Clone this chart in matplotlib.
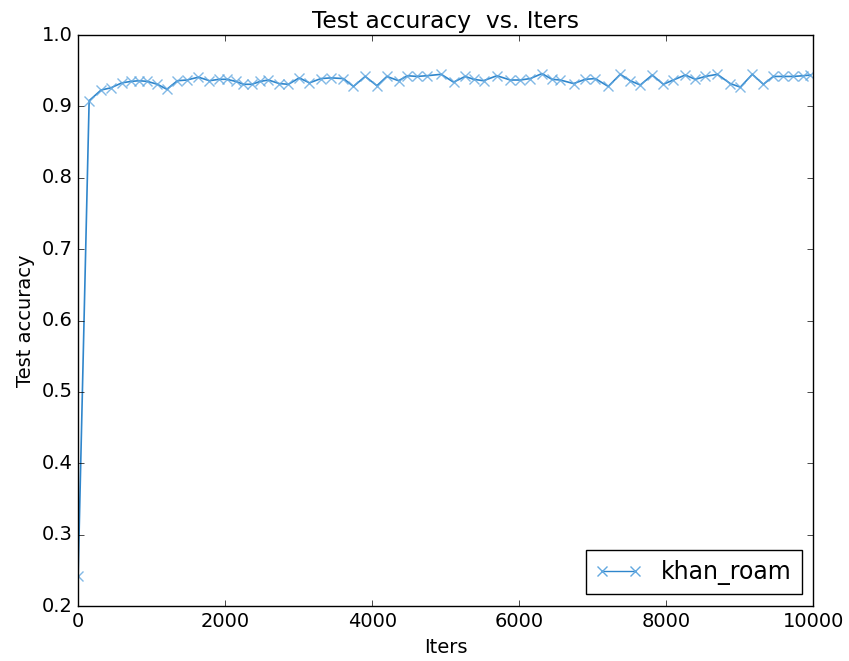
import matplotlib
matplotlib.use('Agg')
import matplotlib.pyplot as plt
from matplotlib.lines import Line2D

# test accuracy
iters = [0, 150, 313, 445, 595, 717, 830, 943, 1079, 1207, 1351,
         1479, 1637, 1786, 1918, 2023, 2146, 2249, 2363, 2476, 2589,
         2735, 2861, 3007, 3147, 3302, 3442, 3609, 3745, 3905, 4064,
         4200, 4358, 4480, 4608, 4744, 4939, 5106, 5265, 5378, 5514,
         5696, 5878, 6014, 6150, 6309, 6445, 6558, 6739, 6898, 7034,
         7211, 7374, 7510, 7646, 7809, 7959, 8095, 8258, 8394, 8531,
         8694, 8871, 9007, 9170, 9320, 9456, 9592, 9728, 9864, 9959]
acc = [0.242, 0.908, 0.923, 0.926, 0.933, 0.935, 0.936, 0.935, 0.931, 0.924, 0.936,
       0.937, 0.941, 0.936, 0.938, 0.938, 0.935, 0.931, 0.931, 0.935, 0.937,
       0.932, 0.931, 0.940, 0.933, 0.939, 0.940, 0.939, 0.928, 0.942, 0.929,
       0.942, 0.936, 0.943, 0.942, 0.943, 0.945, 0.934, 0.942, 0.938, 0.936,
       0.943, 0.937, 0.937, 0.939, 0.946, 0.938, 0.937, 0.932, 0.938, 0.939,
       0.928, 0.945, 0.936, 0.930, 0.944, 0.931, 0.937, 0.944, 0.938, 0.942,
       0.945, 0.932, 0.927, 0.945, 0.931, 0.942, 0.942, 0.942, 0.943, 0.944]

plt.style.use('classic')
plt.rcParams['font.size'] = 14
fig = plt.figure(figsize=(8.49, 6.61), dpi=100)
fig.patch.set_facecolor('white')
ax = fig.add_axes([0.092, 0.083, 0.866, 0.864])

ax.plot(iters, acc, color='#2f86cc', lw=1.2)
ax.plot(iters, acc, ls='none', marker='x', ms=7, mew=1.0,
        color='#62a8e0', alpha=0.8)
handle = Line2D([], [], color='#2f86cc', lw=1.0, marker='x', ms=7,
                mec='#62a8e0', mfc='none', mew=1.0)

ax.set_xlim(0, 10000)
ax.set_ylim(0.2, 1.0)
ax.set_xlabel('Iters')
ax.set_ylabel('Test accuracy')
ax.set_title('Test accuracy  vs. Iters', fontsize=16.8)
ax.legend([handle], ['khan_roam'], loc='lower right', numpoints=2,
          fontsize=17)

fig.savefig('out.png', dpi=100, facecolor='white')
